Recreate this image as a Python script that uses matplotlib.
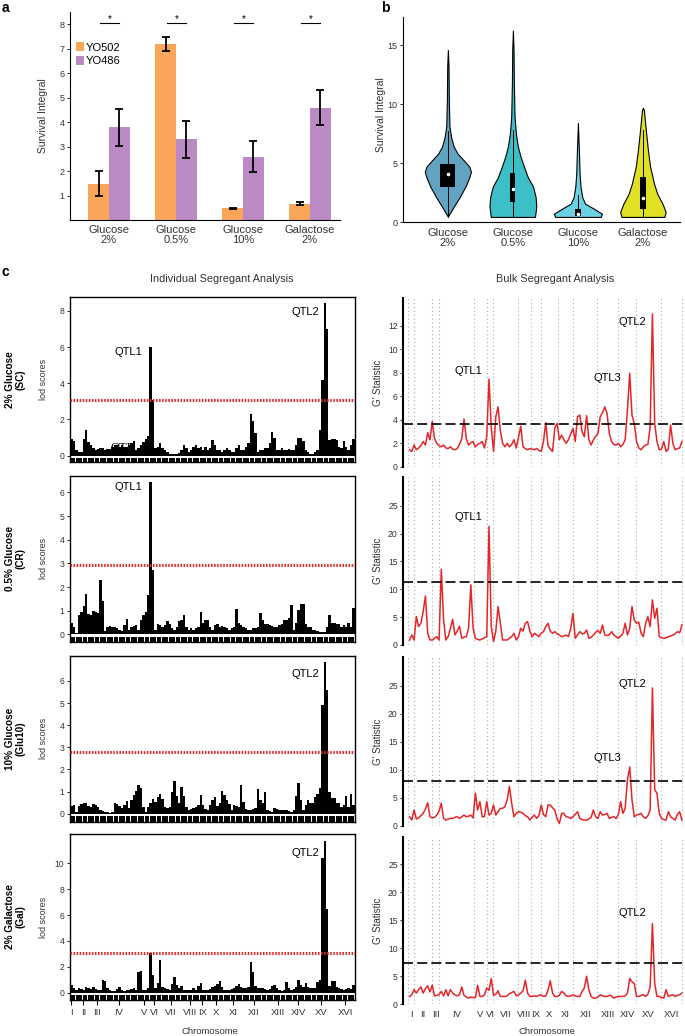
import matplotlib.pyplot as plt
import numpy as np

plt.rcParams['font.family'] = ['Liberation Sans', 'DejaVu Sans']

# ---------------- panel a: parental strains
conditions = ['Glucose\n2%', 'Glucose\n0.5%', 'Glucose\n10%', 'Galactose\n2%']
yo502_mean = [1.5, 7.2, 0.5, 0.68]
yo502_err = [0.5, 0.3, 0.02, 0.07]
yo486_mean = [3.8, 3.3, 2.6, 4.6]
yo486_err = [0.75, 0.75, 0.63, 0.72]
signif = ['*', '*', '*', '*']

# ---------------- panel b: segregant distributions (outline value, half width)
violin_y = [
    [0.45, 1.3, 2.1, 3.0, 3.8, 4.25, 4.7, 5.2, 5.8, 6.4, 7.2, 8.1, 10.3, 13.2, 14.6],
    [0.43, 1.3, 2.1, 3.0, 3.8, 4.7, 5.5, 6.4, 7.5, 8.9, 11.8, 14.6, 16.25],
    [0.43, 0.7, 1.13, 1.56, 2.1, 3.0, 4.1, 6.1, 8.4],
    [0.43, 0.85, 1.56, 2.4, 3.26, 4.7, 6.1, 7.5, 8.6, 9.5, 9.7],
]
violin_w = [
    [0.0, 0.09, 0.18, 0.27, 0.33, 0.355, 0.33, 0.25, 0.15, 0.09, 0.05, 0.025, 0.015, 0.01, 0.0],
    [0.34, 0.36, 0.35, 0.31, 0.23, 0.17, 0.12, 0.077, 0.046, 0.026, 0.015, 0.01, 0.0],
    [0.35, 0.37, 0.245, 0.11, 0.067, 0.04, 0.026, 0.015, 0.0],
    [0.33, 0.35, 0.3, 0.22, 0.17, 0.11, 0.077, 0.05, 0.03, 0.015, 0.0],
]
box_lo = [3.0, 1.7, 0.5, 1.1]
box_hi = [4.9, 4.2, 1.1, 3.8]
medians = [4.05, 2.8, 0.7, 2.0]
whisk_lo = [0.45, 0.43, 0.43, 0.43]
whisk_hi = [7.7, 7.8, 2.3, 7.8]
violin_colors = ['#62A3C2', '#3CBFC6', '#6BD0E2', '#E0E024']

# ---------------- panel c: genome scans
chrom_names = ['I', 'II', 'III', 'IV', 'V', 'VI', 'VII', 'VIII', 'IX', 'X',
               'XI', 'XII', 'XIII', 'XIV', 'XV', 'XVI']
chrom_len_kb = [230, 813, 317, 1532, 577, 270, 1091, 563, 440, 746,
                667, 1078, 924, 784, 1091, 948]
bin_kb = np.arange(50, 12100, 100)

row_names = ['2% Glucose\n(SC)', '0.5% Glucose\n(CR)',
             '10% Glucose\n(Glu10)', '2% Galactose\n(Gal)']

lod_sc = [1.05, 0.9, 0.8, 0.3, 0.2, 0.2, 0.9, 1.4, 0.75, 0.6,
          0.4, 0.3, 0.35, 0.4, 0.4, 0.3, 0.35, 0.35, 0.5, 0.6,
          0.6, 0.5, 0.6, 0.5, 0.5, 0.6, 0.7, 0.8, 0.3, 0.4,
          0.6, 0.75, 0.9, 1.1, 6.0, 3.1, 0.4, 0.5, 0.7, 0.4,
          0.3, 0.2, 0.1, 0.1, 0.1, 0.1, 0.15, 0.3, 0.6, 0.4,
          0.2, 0.3, 0.5, 0.6, 0.4, 0.5, 0.3, 0.5, 0.3, 0.4,
          0.85, 0.6, 0.3, 0.3, 0.2, 0.3, 0.4, 0.3, 0.2, 0.2,
          0.4, 0.6, 0.3, 0.3, 0.5, 0.7, 2.3, 1.9, 1.25, 0.2,
          0.3, 0.3, 0.4, 0.4, 0.7, 1.3, 0.95, 0.3, 0.3, 0.4,
          0.3, 0.3, 0.35, 0.3, 0.3, 0.6, 1.0, 1.0, 0.8, 0.3,
          0.2, 0.1, 0.1, 0.2, 0.3, 1.4, 4.2, 8.45, 7.0, 0.85,
          0.9, 0.9, 0.85, 0.5, 0.4, 0.8, 0.5, 0.3, 0.6, 0.9, 0.4]
lod_cr = [0.45, 0.5, 0.3, 0.05, 0.8, 0.95, 1.2, 1.7, 0.85, 0.8,
          1.0, 0.95, 0.9, 2.3, 1.4, 0.15, 0.3, 0.35, 0.3, 0.3,
          0.25, 0.2, 0.15, 0.4, 0.65, 0.2, 0.3, 0.35, 0.4, 0.2,
          0.6, 0.8, 0.95, 1.65, 6.45, 2.7, 0.2, 0.45, 0.4, 0.3,
          0.4, 0.55, 0.45, 0.25, 0.2, 0.3, 0.55, 0.6, 0.8, 0.3,
          0.2, 0.25, 0.2, 0.25, 0.3, 0.95, 0.5, 0.6, 0.6, 0.3,
          0.2, 0.4, 0.45, 0.3, 0.35, 0.3, 0.25, 0.2, 0.25, 0.3,
          1.07, 0.5, 0.4, 0.3, 0.25, 0.2, 0.2, 0.25, 0.25, 0.3,
          0.9, 0.6, 0.45, 0.45, 0.4, 0.35, 0.3, 0.3, 0.4, 0.45,
          0.6, 0.6, 0.7, 1.25, 0.2, 0.5, 1.05, 1.3, 1.3, 0.45,
          0.3, 0.3, 0.2, 0.2, 0.15, 0.1, 0.1, 0.1, 0.3, 0.8,
          0.5, 0.5, 0.45, 0.45, 0.3, 0.4, 0.3, 0.5, 0.3, 1.1, 0.3]
lod_glu10 = [0.1, 0.35, 0.4, 0.1, 0.35, 0.45, 0.47, 0.47, 0.35, 0.3,
             0.45, 0.38, 0.3, 0.15, 0.12, 0.1, 0.08, 0.05, 0.1, 0.5,
             0.45, 0.35, 0.25, 0.4, 0.57, 0.25, 0.6, 0.85, 1.05, 1.3,
             1.15, 0.3, 0.1, 0.3, 0.5, 0.66, 0.55, 0.77, 0.9, 0.65,
             0.3, 0.25, 0.3, 1.0, 1.48, 0.8, 0.5, 1.22, 0.8, 0.3,
             0.15, 0.2, 0.25, 0.3, 0.4, 0.85, 0.4, 0.2, 0.15, 0.4,
             0.6, 0.77, 0.35, 0.5, 1.05, 0.85, 0.6, 0.45, 0.15, 0.4,
             0.35, 0.3, 1.3, 0.55, 0.2, 0.15, 0.15, 0.2, 0.25, 1.12,
             0.6, 0.5, 1.0, 0.15, 0.12, 0.1, 0.25, 0.2, 0.15, 0.15,
             0.15, 0.15, 0.12, 0.1, 0.15, 0.8, 1.4, 0.6, 0.15, 0.4,
             0.6, 0.5, 0.5, 0.77, 0.9, 1.15, 4.9, 6.87, 5.6, 1.0,
             0.7, 0.7, 0.5, 0.47, 0.3, 0.4, 0.8, 0.3, 0.9, 0.4, 0.3]
lod_gal = [1.0, 0.6, 0.4, 0.2, 0.4, 0.3, 0.2, 0.45, 0.35, 0.3,
           0.45, 0.3, 0.2, 0.2, 1.0, 0.9, 0.4, 0.2, 0.15, 0.15,
           0.3, 0.45, 0.2, 0.15, 0.2, 0.2, 0.3, 0.35, 0.2, 1.6,
           1.7, 0.25, 0.2, 0.35, 3.04, 1.37, 0.35, 0.72, 2.53, 0.45,
           0.35, 0.3, 0.25, 0.7, 1.18, 0.6, 0.35, 0.5, 0.25, 0.2,
           0.2, 0.25, 0.35, 0.2, 0.5, 0.77, 0.2, 0.2, 0.2, 0.3,
           0.45, 0.5, 0.7, 0.93, 0.45, 0.2, 0.2, 0.2, 0.3, 0.35,
           0.55, 0.67, 0.45, 0.4, 0.4, 0.45, 2.35, 1.62, 0.5, 0.4,
           0.4, 0.35, 0.3, 0.25, 0.3, 0.5, 0.6, 0.4, 0.2, 0.15,
           0.2, 0.85, 0.4, 0.25, 0.3, 0.45, 1.0, 0.6, 0.45, 0.77,
           0.45, 0.4, 0.35, 0.4, 0.85, 1.0, 10.4, 11.7, 6.5, 0.5,
           0.9, 0.9, 0.45, 0.35, 0.3, 0.2, 0.3, 0.4, 0.3, 0.6, 0.3]
lod_thresh = [3.1, 2.95, 2.8, 3.05]

gp_sc = [1.45, 1.3, 1.85, 1.45, 1.6, 1.8, 2.15, 1.85, 2.9, 2.3,
         3.85, 2.4, 2.0, 1.8, 1.7, 1.85, 1.6, 1.55, 1.7, 1.5,
         1.45, 1.55, 1.9, 2.4, 4.05, 2.4, 1.85, 2.05, 2.15, 1.7,
         1.9, 2.0, 2.15, 1.6, 2.55, 7.45, 3.4, 1.3, 4.25, 5.1,
         3.1, 2.0, 1.7, 2.0, 1.7, 1.9, 2.3, 1.6, 2.5, 3.45,
         1.7, 1.55, 1.45, 1.55, 1.5, 1.45, 1.55, 1.4, 1.3, 2.15,
         3.75, 1.8, 1.5, 1.3, 3.3, 3.7, 2.3, 2.7, 2.3, 2.0,
         2.3, 2.8, 3.25, 2.15, 4.25, 4.4, 3.0, 2.55, 4.35, 2.3,
         1.85, 2.3, 2.6, 2.85, 4.25, 4.6, 5.1, 4.55, 2.85, 2.15,
         1.9, 1.85, 2.0, 1.7, 1.9, 2.3, 4.85, 7.95, 4.4, 3.7,
         2.15, 1.6, 1.45, 1.7, 1.85, 1.9, 3.4, 13.0, 3.7, 2.15,
         1.45, 1.5, 2.15, 1.3, 1.5, 3.55, 2.0, 1.45, 1.55, 1.6, 2.15]
gp_cr = [0.9, 1.8, 0.9, 5.1, 3.3, 3.9, 6.0, 8.8, 2.1, 0.9,
         0.9, 1.2, 1.5, 0.9, 13.6, 4.5, 0.9, 1.5, 3.0, 4.6,
         1.8, 2.5, 3.4, 1.2, 1.4, 1.5, 3.0, 10.8, 3.0, 1.2,
         1.0, 0.9, 1.1, 1.3, 1.5, 21.3, 3.3, 0.6, 2.5, 6.9,
         3.9, 0.9, 0.9, 0.9, 1.2, 1.5, 2.1, 0.9, 1.5, 3.0,
         2.5, 3.9, 4.2, 2.5, 1.5, 2.1, 1.8, 1.5, 2.1, 2.4,
         3.3, 3.9, 2.5, 2.1, 2.4, 2.0, 1.8, 1.5, 1.6, 1.8,
         1.5, 3.0, 5.7, 1.2, 1.8, 2.4, 2.0, 2.1, 2.7, 1.2,
         1.4, 1.8, 2.3, 2.6, 2.1, 3.6, 1.8, 1.7, 1.8, 2.4,
         1.8, 1.5, 1.2, 1.6, 2.1, 3.9, 1.8, 3.0, 6.9, 4.5,
         3.9, 4.1, 2.1, 1.5, 3.9, 5.1, 3.3, 8.1, 4.8, 6.6,
         1.5, 1.3, 1.2, 1.3, 1.5, 1.6, 1.8, 2.0, 2.4, 2.2, 3.6]
gp_glu10 = [1.6, 1.0, 2.8, 1.2, 1.4, 1.8, 2.2, 3.0, 4.1, 1.6,
            1.4, 1.5, 1.9, 2.6, 4.0, 1.3, 1.0, 1.2, 1.3, 1.3,
            1.5, 1.6, 1.3, 1.6, 1.9, 1.6, 1.7, 1.9, 1.4, 5.8,
            2.8, 4.3, 1.6, 1.6, 4.3, 1.9, 2.2, 3.7, 1.9, 2.5,
            3.1, 3.1, 3.4, 4.6, 7.0, 4.0, 1.6, 2.2, 2.5, 2.4,
            2.2, 1.8, 1.6, 1.0, 1.5, 1.9, 1.3, 1.8, 3.7, 2.0,
            1.6, 3.7, 3.7, 3.2, 2.8, 1.2, 0.4, 2.2, 2.2, 1.6,
            1.5, 1.3, 1.6, 2.0, 2.5, 1.3, 1.1, 1.0, 1.0, 1.2,
            1.5, 2.8, 1.6, 1.3, 2.5, 1.9, 2.0, 2.2, 1.3, 1.5,
            1.6, 1.3, 2.0, 4.3, 2.2, 3.1, 8.2, 10.5, 4.6, 1.6,
            1.9, 2.0, 2.2, 1.6, 1.3, 1.8, 2.8, 24.6, 6.4, 5.8,
            2.2, 1.3, 1.1, 1.0, 2.5, 1.6, 1.3, 1.0, 2.0, 2.5, 1.0]
gp_gal = [1.4, 1.7, 2.6, 2.0, 2.6, 3.1, 2.0, 2.8, 3.3, 2.2,
          3.4, 1.5, 1.6, 1.7, 2.3, 1.5, 2.6, 1.5, 2.6, 2.0,
          1.7, 1.5, 1.7, 3.1, 1.6, 1.3, 1.1, 1.3, 1.2, 1.2,
          3.4, 1.4, 1.4, 1.7, 2.9, 2.5, 4.6, 1.6, 1.8, 2.4,
          1.4, 1.4, 1.4, 1.5, 1.9, 2.1, 2.3, 1.5, 1.7, 2.0,
          2.4, 4.3, 2.0, 1.4, 1.4, 1.5, 1.4, 1.6, 1.7, 1.4,
          1.5, 2.5, 4.2, 2.0, 1.4, 1.4, 1.6, 2.3, 2.0, 1.5,
          1.4, 1.5, 1.7, 1.5, 1.4, 1.4, 2.3, 2.9, 5.0, 2.6,
          1.4, 1.1, 1.1, 1.3, 1.7, 1.5, 1.4, 1.4, 1.6, 1.5,
          1.1, 1.3, 1.4, 1.4, 1.4, 1.5, 2.0, 4.6, 4.0, 3.7,
          1.4, 1.4, 1.6, 1.7, 1.4, 1.8, 3.1, 14.4, 3.7, 1.4,
          1.4, 1.2, 1.1, 2.6, 1.4, 1.6, 1.7, 1.4, 1.6, 1.7, 2.0]
gp_thresh = [3.64, 11.3, 7.93, 7.3]

lod_rows = [lod_sc, lod_cr, lod_glu10, lod_gal]
gp_rows = [gp_sc, gp_cr, gp_glu10, gp_gal]

W, H = 685, 1036
fig = plt.figure(figsize=(W / 100, H / 100), dpi=100)


def px_axes(x0, y0, x1, y1):
    return fig.add_axes([x0 / W, 1 - y1 / H, (x1 - x0) / W, (y1 - y0) / H])


def px_text(x, y, s, **kw):
    kw.setdefault('ha', 'center')
    kw.setdefault('va', 'center')
    fig.text(x / W, 1 - y / H, s, **kw)


orange = '#F9A65A'
purple = '#BB89C3'
red = '#E3262A'
grey_txt = '#333333'

# ---------------- panel a
ax = px_axes(70, 12, 340, 220.4)
x = np.arange(len(conditions))
bw = 0.31
ax.bar(x - bw / 2, yo502_mean, bw, color=orange, label='YO502')
ax.bar(x + bw / 2, yo486_mean, bw, color=purple, label='YO486')
ax.errorbar(x - bw / 2, yo502_mean, yerr=yo502_err, fmt='none', ecolor='k',
            elinewidth=1.3, capsize=3, capthick=1.3)
ax.errorbar(x + bw / 2, yo486_mean, yerr=yo486_err, fmt='none', ecolor='k',
            elinewidth=1.3, capsize=3, capthick=1.3)
for i, s in enumerate(signif):
    ax.plot([i - 0.14, i + 0.15], [8.07, 8.07], color='k', lw=0.8)
    ax.text(i + 0.005, 8.0, s, ha='center', va='bottom', fontsize=7)
ax.set_xlim(-0.582, 3.448)
ax.set_ylim(0, 8.5)
ax.set_yticks(range(1, 9))
ax.set_xticks(x)
ax.set_xticklabels(conditions, fontsize=8, color=grey_txt, linespacing=1.1)
ax.tick_params(axis='x', length=0, pad=3)
ax.tick_params(axis='y', labelsize=6.5, labelcolor=grey_txt, length=2.5, width=0.6, pad=1.5)
for sp in ['top', 'right']:
    ax.spines[sp].set_visible(False)
ax.legend(loc='upper left', bbox_to_anchor=(0.022, 0.855), frameon=False,
          fontsize=8, handlelength=0.7, handleheight=0.9, handletextpad=0.2,
          labelspacing=0.3, borderpad=0, borderaxespad=0)
px_text(43, 116, 'Survival Integral', rotation=90, fontsize=7.5, color=grey_txt)
px_text(5, 8, 'a', fontsize=10, fontweight='bold')

# ---------------- panel b
ax = px_axes(403, 17, 680, 222)
for i in range(len(violin_y)):
    vy = np.array(violin_y[i])
    vw = np.array(violin_w[i])
    ax.fill_betweenx(vy, i - vw, i + vw, facecolor=violin_colors[i],
                     edgecolor='k', linewidth=0.8)
    ax.plot([i, i], [whisk_lo[i], whisk_hi[i]], color='k', lw=0.7)
    hw = 0.115 if i == 0 else 0.04
    ax.add_patch(plt.Rectangle((i - hw, box_lo[i]), 2 * hw, box_hi[i] - box_lo[i],
                               facecolor='k', edgecolor='none', zorder=3))
    ax.plot(i, medians[i], 'o', color='white', ms=2.6, mec='none', zorder=4)
ax.set_xlim(-0.69, 3.57)
ax.set_ylim(0, 17.4)
ax.set_yticks([0, 5, 10, 15])
ax.set_xticks(range(len(conditions)))
ax.set_xticklabels(conditions, fontsize=8, color=grey_txt, linespacing=1.1)
ax.tick_params(axis='x', length=0, pad=4)
ax.tick_params(axis='y', labelsize=6.5, labelcolor=grey_txt, length=2.5, width=0.6, pad=1.5)
for sp in ['top', 'right']:
    ax.spines[sp].set_visible(False)
px_text(381, 115, 'Survival Integral', rotation=90, fontsize=7.5, color=grey_txt)
px_text(385, 8, 'b', fontsize=10, fontweight='bold')

# ---------------- panel c
chrom_start = np.concatenate([[0], np.cumsum(chrom_len_kb)])
chrom_mid = (chrom_start[:-1] + chrom_start[1:]) / 2

px_text(5, 272, 'c', fontsize=10, fontweight='bold')
px_text(222, 279, 'Individual Segregant Analysis', fontsize=7.8, color=grey_txt)
px_text(555, 279, 'Bulk Segregant Analysis', fontsize=7.8, color=grey_txt)

left_box = [(297, 462), (476, 641.7), (656, 821.7), (834, 1000)]
left_ylim = [(-0.35, 8.77), (-0.31, 6.69), (-0.36, 7.13), (-0.56, 12.26)]
left_ticks = [range(0, 9, 2), range(0, 7), range(0, 7), range(0, 11, 2)]
right_box = [(298.3, 466.8), (477.3, 645), (657.3, 825.7), (836.7, 1004.3)]
right_ytop = [14.33, 30.1, 30.07, 29.9]
right_ticks = [range(0, 13, 2), range(0, 26, 5), range(0, 26, 5), range(0, 26, 5)]

left_qtl = [[('QTL1', 128, 351.7), ('QTL2', 305, 311.7)],
            [('QTL1', 128, 486.7)],
            [('QTL2', 305, 674)],
            [('QTL2', 305, 853)]]
right_qtl = [[('QTL1', 468, 371), ('QTL3', 607, 378.3), ('QTL2', 632, 321.7)],
             [('QTL1', 468, 516.7)],
             [('QTL3', 607, 758.3), ('QTL2', 632, 684.3)],
             [('QTL2', 632, 913.3)]]

for r in range(4):
    # individual segregant LOD scan
    y0, y1 = left_box[r]
    ax = px_axes(70, y0, 355, y1)
    lo, hi = left_ylim[r]
    ax.bar(bin_kb, lod_rows[r], width=100, color='k', linewidth=0, zorder=2)
    ax.vlines(bin_kb, lo, lo * 0.3, colors='k', lw=1.4, zorder=2)
    ax.axhline(lod_thresh[r], color=red, lw=2.2, linestyle=(0, (0.5, 0.5)), zorder=3)
    ax.set_xlim(71, 12016)
    ax.set_ylim(lo, hi)
    ax.set_yticks(list(left_ticks[r]))
    ax.tick_params(axis='y', labelsize=6.2, labelcolor=grey_txt, length=2.5, width=0.6, pad=1.5)
    for sp in ax.spines.values():
        sp.set_linewidth(1.0)
    if r == 3:
        ax.set_xticks(chrom_mid)
        ax.set_xticklabels(chrom_names, fontsize=6.8, color=grey_txt)
        ax.tick_params(axis='x', length=3.6, width=0.8, pad=2, direction='out')
    else:
        ax.set_xticks([])
    for name, qx, qy in left_qtl[r]:
        px_text(qx, qy, name, fontsize=8)
    if r == 0:
        ax.text(2292, 0.42, 'QTL', family=['Liberation Serif', 'DejaVu Serif'],
                fontsize=9, ha='center', va='center', zorder=1)
    px_text(43, (y0 + y1) / 2, 'lod scores', rotation=90, fontsize=6.5, color=grey_txt)
    px_text(15, (y0 + y1) / 2, row_names[r], rotation=90, fontsize=7.2,
            fontweight='bold', linespacing=1.05)

    # bulk segregant G' scan
    y0, y1 = right_box[r]
    ax = px_axes(403.3, y0, 683, y1)
    ax.vlines(chrom_start, 0, right_ytop[r], colors='#AAAAAA', lw=0.8,
              linestyles=[(0, (1, 2.5))], zorder=1)
    ax.plot(bin_kb, gp_rows[r], color=red, lw=1.1, zorder=2)
    ax.axhline(gp_thresh[r], color='k', lw=1.2, linestyle=(0, (6, 2.5)), zorder=3)
    ax.set_xlim(-225, 12097)
    ax.set_ylim(0, right_ytop[r])
    ax.set_yticks(list(right_ticks[r]))
    ax.tick_params(axis='y', labelsize=6.2, labelcolor=grey_txt, length=2.5, width=0.6, pad=1.5)
    for sp in ['top', 'right', 'bottom']:
        ax.spines[sp].set_visible(False)
    ax.spines['left'].set_linewidth(1.5)
    if r == 3:
        ax.set_xticks(chrom_mid)
        ax.set_xticklabels(chrom_names, fontsize=6.8, color=grey_txt)
        ax.tick_params(axis='x', length=0, pad=4)
    else:
        ax.set_xticks([])
    for name, qx, qy in right_qtl[r]:
        px_text(qx, qy, name, fontsize=8)
    px_text(378, (y0 + y1) / 2, "G' Statistic", rotation=90, fontsize=7, color=grey_txt)

px_text(210, 1031, 'Chromosome', fontsize=6.8, color=grey_txt)
px_text(547, 1031, 'Chromosome', fontsize=6.8, color=grey_txt)

fig.savefig('out.png', dpi=100)
